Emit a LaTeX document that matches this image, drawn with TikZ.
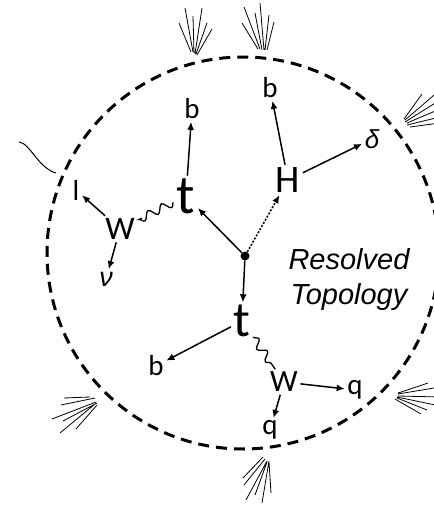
\documentclass[tikz,border=0pt]{standalone}
\usepackage{fontspec}
\setmainfont{Carlito}
\newfontfamily\italfont{Liberation Sans}
\usetikzlibrary{arrows.meta,decorations.pathmorphing}

\begin{document}
\begin{tikzpicture}[x=1pt,y=-1pt,
  lbl/.style={inner sep=2.5pt},
  fsz/.style={font=\fontsize{#1}{#1}\selectfont},
  arr/.style={line width=1.5pt,-{Latex[length=8pt,width=7pt]}},
  dotarr/.style={arr,dash pattern=on 2pt off 1.6pt},
  wave/.style={line width=1.3pt,decorate,
    decoration={snake,segment length=15pt,amplitude=4pt}},
  boundary/.style={line width=3pt,dash pattern=on 11pt off 7pt},
  jet/.style={line width=0.8pt},
  track/.style={line width=1pt}]
\useasboundingbox (0,0) rectangle (433,505);

% event boundary
\draw[boundary] (243,253) circle (196);

% production vertex
\node[circle,fill,inner sep=0pt,minimum size=9pt] (v) at (245,256) {};

% particles
\node[lbl,fsz=55] (t1) at (186,196) {t};
\node[lbl,fsz=29] (b1) at (192,109) {b};
\node[lbl,fsz=39] (H) at (288,180) {H};
\node[lbl,fsz=29] (b2) at (270,88) {b};
\node[lbl,font=\italfont\itshape\fontsize{26}{26}\selectfont] (b3) at (372,139) {δ};
\node[lbl,fsz=33] (W1) at (120,229) {W};
\node[lbl,fsz=29] (l) at (76,190) {l};
\node[lbl,font=\italfont\itshape\fontsize{27}{27}\selectfont] (nu) at (106,279) {ν};
\node[lbl,fsz=50] (t2) at (242,321) {t};
\node[lbl,fsz=29] (b4) at (156,366) {b};
\node[lbl,fsz=31] (W2) at (284,382) {W};
\node[lbl,fsz=29] (q1) at (355,390) {q};
\node[lbl,fsz=29] (q2) at (270,430) {q};

\node[align=center,font=\italfont\itshape\fontsize{29}{35}\selectfont]
  (topo) at (349,279) {Resolved\\Topology};

% decay chain
\draw[arr] (v) -- (t1);
\draw[dotarr] (v) -- (H);
\draw[arr] (t1) -- (b1);
\draw[arr] (H) -- (b2);
\draw[arr] (H) -- (b3);
\draw[wave,shorten <=1pt,shorten >=5pt] (t1) -- (W1);
\draw[arr] (W1) -- (l);
\draw[arr] (W1) -- (nu);
\draw[arr] (v) -- (t2);
\draw[arr] (t2) -- (b4);
\draw[wave] (t2) -- (W2);
\draw[arr] (W2) -- (q1);
\draw[arr] (W2) -- (q2);

% lepton track leaving the boundary
\coordinate (trk0) at (19,142);
\coordinate (trk1) at (56,173);
\draw[track] (trk0) .. controls (30,143) and (38,168) .. (trk1);

% jets
\draw[jet] (191,52)--(179,23) (193,52)--(185,8) (194,53)--(193,16)
           (195,54)--(202,8) (196,54)--(207,23) (197,55)--(212,29);
\draw[jet] (258,49)--(242,23) (260,49)--(244,7) (262,50)--(255,13)
           (264,50)--(260,3) (265,50)--(269,15) (267,50)--(274,22);
\draw[jet] (404,119)--(422,94) (405,120)--(440,90) (405,122)--(440,100)
           (407,123)--(440,109) (407,125)--(440,117) (410,127)--(440,123);
\draw[jet] (90,397)--(64,398) (95,398)--(61,405) (96,402)--(52,419)
           (97,403)--(63,421) (95,404)--(60,433) (97,405)--(76,429);
\draw[jet] (398,393)--(428,383) (398,394)--(440,387) (398,396)--(440,397)
           (397,397)--(440,406) (395,399)--(421,414) (397,398)--(427,410);
\draw[jet] (263,457)--(243,478) (265,459)--(244,485) (267,461)--(246,500)
           (267,462)--(255,495) (269,461)--(262,503) (269,462)--(271,493);
\end{tikzpicture}
\end{document}
